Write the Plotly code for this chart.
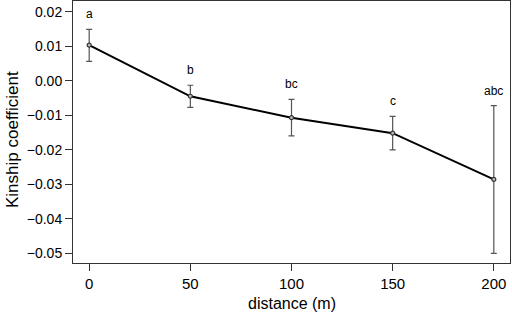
import plotly.graph_objects as go

distance = [0, 50, 100, 150, 200]
kinship = [0.0103, -0.0045, -0.0107, -0.0152, -0.0286]
err_upper = [0.0149, -0.0013, -0.0054, -0.0103, -0.0072]
err_lower = [0.0056, -0.0077, -0.0160, -0.0200, -0.0500]
group_labels = ["a", "b", "bc", "c", "abc"]

x_ticks = [0, 50, 100, 150, 200]
y_ticks = [0.02, 0.01, 0.00, -0.01, -0.02, -0.03, -0.04, -0.05]
y_ticktext = ["0.02", "0.01", "0.00", "\u22120.01", "\u22120.02", "\u22120.03", "\u22120.04", "\u22120.05"]

font = "Liberation Sans, Arial, Helvetica, sans-serif"

fig = go.Figure()

fig.add_trace(go.Scatter(
    x=distance, y=kinship,
    mode="lines+markers",
    line=dict(color="black", width=2),
    marker=dict(size=4, color="#bbbbbb", line=dict(color="#333333", width=1.2)),
    error_y=dict(
        type="data", symmetric=False,
        array=[u - k for u, k in zip(err_upper, kinship)],
        arrayminus=[k - l for k, l in zip(kinship, err_lower)],
        color="#555555", thickness=1.2, width=3,
    ),
    showlegend=False,
))

for xv, up, lab in zip(distance, err_upper, group_labels):
    fig.add_annotation(
        x=xv, y=up, text=lab, showarrow=False,
        yanchor="middle", yshift=15,
        font=dict(family=font, size=12, color="black"),
    )

# axis titles
fig.add_annotation(
    xref="paper", yref="paper", x=0.5, y=0, yshift=-40,
    text="distance (m)", showarrow=False, xanchor="center", yanchor="middle",
    font=dict(family=font, size=16, color="black"),
)
fig.add_annotation(
    xref="paper", yref="paper", x=0, y=0.5, xshift=-61, yshift=-8,
    text="Kinship coefficient", showarrow=False, textangle=-90,
    xanchor="center", yanchor="middle",
    font=dict(family=font, size=17, color="black"),
)

fig.update_layout(
    width=512, height=312,
    margin=dict(l=73, r=2, t=1, b=49),
    paper_bgcolor="white", plot_bgcolor="white",
    font=dict(family=font, size=14, color="black"),
)

fig.update_xaxes(
    range=[-8, 208], automargin=False,
    tickvals=x_ticks, ticktext=[str(v) for v in x_ticks],
    ticks="outside", ticklen=7, tickcolor="#333333", tickwidth=1,
    showline=True, linecolor="#333333", linewidth=1, mirror=True,
    showgrid=False, zeroline=False,
    tickfont=dict(size=15),
)
fig.update_yaxes(
    range=[-0.0528, 0.0231], automargin=False,
    tickvals=y_ticks, ticktext=y_ticktext,
    ticks="outside", ticklen=7, tickcolor="#333333", tickwidth=1,
    showline=True, linecolor="#333333", linewidth=1, mirror=True,
    showgrid=False, zeroline=False,
    tickfont=dict(size=14),
)

fig.write_html(
    "out.html",
    config={"displayModeBar": False},
    post_script="document.body.style.margin='0px';document.body.style.overflow='hidden';",
)
